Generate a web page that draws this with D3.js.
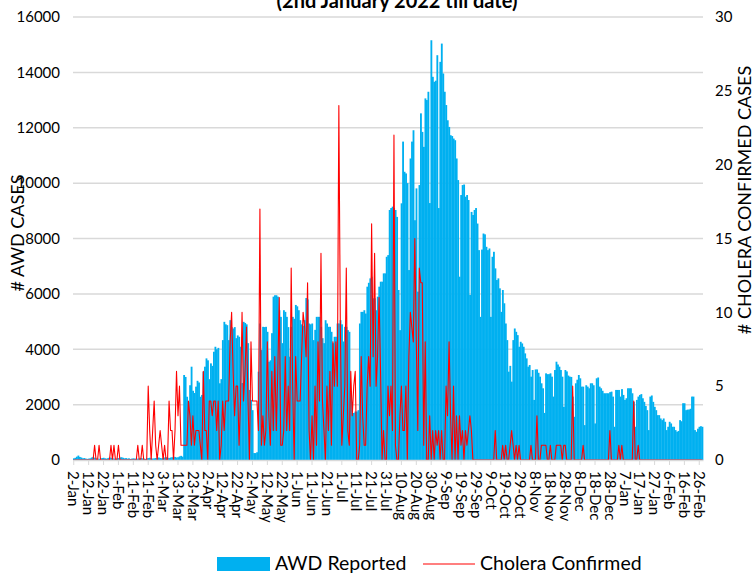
<!DOCTYPE html>
<html>
<head>
<meta charset="utf-8">
<script src="https://cdn.jsdelivr.net/npm/d3@7"></script>
<style>
  body { margin: 0; background: #fff; }
  svg { display: block; font-family: Lato, "Open Sans", sans-serif; }
</style>
</head>
<body>
<svg id="chart" width="753" height="574"></svg>
<script>
// tick labels, one every 10 days starting 2-Jan-2022
const tickLabels = ["2-Jan","12-Jan","22-Jan","1-Feb","11-Feb","21-Feb","3-Mar","13-Mar","23-Mar",
  "2-Apr","12-Apr","22-Apr","2-May","12-May","22-May","1-Jun","11-Jun","21-Jun","1-Jul","11-Jul",
  "21-Jul","31-Jul","10-Aug","20-Aug","30-Aug","9-Sep","19-Sep","29-Sep","9-Oct","19-Oct","29-Oct",
  "8-Nov","18-Nov","28-Nov","8-Dec","18-Dec","28-Dec","7-Jan","17-Jan","27-Jan","6-Feb","16-Feb","26-Feb"];

// daily AWD reported, 2-Jan-2022 .. 28-Feb-2023
const awd = [
  60,80,120,160,110,90,60,70,50,40,
  50,60,90,110,80,60,50,40,60,70,
  80,60,50,70,90,80,60,50,40,60,
  70,90,100,80,60,70,50,60,40,50,
  60,50,40,50,60,70,60,50,40,60,
  70,80,60,50,60,70,80,90,70,60,
  80,90,100,80,70,90,100,120,110,90,
  100,130,150,120,3070,3000,2285,2100,2700,3370,
  2500,2420,2650,2860,2800,2285,2350,3190,3370,3670,
  3600,2920,3490,3400,3910,4090,4000,4050,2770,2920,
  4330,4990,4900,4870,4330,5050,4800,4750,4800,4400,
  4500,4450,4090,2780,4990,4950,4900,4220,2530,2170,
  1800,250,250,280,3190,4930,3970,4810,4800,4810,
  4630,3550,3600,4580,5900,5950,5950,5900,5410,5170,
  4220,5410,5350,5170,4800,3730,4810,5170,5100,5600,
  5550,5410,5050,4900,4850,5050,5850,5800,4930,4900,
  4930,4330,4700,5170,5170,5170,4810,4400,4220,5050,
  4930,4810,4810,4630,4220,4450,4450,4930,4930,5050,
  4900,4280,4810,4810,4690,4630,2420,1700,1700,1750,
  1750,1800,4930,5350,5350,5410,5290,6260,6400,6560,
  6620,5840,5840,5410,5900,6260,6440,6440,6740,6740,
  7340,7400,9030,9100,9150,9100,9030,8780,6140,4690,
  9270,11500,10410,10350,10000,6860,10890,11500,11910,8660,
  9810,6080,9930,12520,11850,11310,13060,13000,13300,9280,
  15160,13840,13660,13700,14620,9100,14380,15040,13960,13300,
  12820,12270,12030,11730,11700,11610,11550,10890,10110,6620,
  9570,9930,9950,9510,9570,9390,5960,8960,8850,9030,
  9100,8540,7580,5170,7600,8180,8150,7700,7580,7640,
  5170,7340,7520,6920,6500,6560,6200,5350,6140,5660,
  4930,4330,3190,3400,2830,4330,4750,4630,4510,4090,
  4270,4210,4090,3850,3670,3370,3430,3010,3250,2170,
  3270,3270,3150,3010,2770,2590,1700,3130,3100,3100,
  3130,3010,2290,3250,3550,3450,3370,3250,3010,1920,
  3250,3200,3050,3010,3000,2290,1560,2770,2900,3070,
  2950,2650,2650,1260,2700,2650,2590,2770,2770,2700,
  1320,2950,2980,2650,2590,2500,2410,2410,2410,2410,
  2450,2470,2290,1200,2530,2530,2530,2290,2560,2350,
  2170,2230,2590,2590,2590,2410,2100,1200,2170,2290,
  2350,2380,2230,2100,1950,1800,1080,2290,2330,2100,
  1920,1800,1620,1620,1500,1440,1500,1380,1080,1200,
  1380,1320,1200,1200,1080,1020,1050,1440,1400,2050,
  2050,1800,1820,1820,1850,2290,2290,1080,1020,1130,
  1200,1220,1200
];

// daily cholera confirmed, same days
const cholera = [
  0,0,0,0,0,0,0,0,0,0,
  0,0,0,0,1,0,0,1,0,0,
  0,0,0,0,0,1,0,1,0,0,
  1,0,0,0,0,0,0,0,0,0,
  0,0,0,1,0,0,1,0,0,0,
  5,2,0,2,4,1,0,1,2,1,
  0,1,0,0,4,2,2,0,2,6,
  3,5,1,1,1,1,1,4,3,1,
  3,1,2,2,2,1,0,6,2,2,
  0,4,4,3,4,4,2,4,0,1,
  4,2,4,4,4,8,10,6,3,5,
  5,1,4,10,4,6,9,4,0,8,
  4,4,4,4,2,17,1,3,1,2,
  8,3,1,6,2,7,2,6,11,1,
  1,2,7,2,5,2,13,5,0,7,
  4,4,4,7,10,9,7,12,2,0,
  3,0,5,1,8,4,14,4,2,0,
  5,2,6,1,8,5,8,5,24,9,
  1,3,5,13,2,1,6,3,5,6,
  0,0,1,7,3,1,1,5,7,5,
  16,7,14,5,7,11,6,0,2,0,
  0,5,3,5,2,22,1,0,0,3,
  5,2,2,5,0,7,10,9,8,15,
  8,2,13,12,12,1,8,0,0,3,
  0,2,0,2,1,2,0,2,0,0,
  5,3,8,3,0,5,0,3,0,3,
  1,2,0,2,1,2,3,2,0,0,
  0,0,0,0,0,0,0,0,0,0,
  0,0,0,2,0,0,0,0,1,0,
  1,0,0,1,2,1,0,1,0,1,
  0,0,0,0,0,0,0,1,0,0,
  0,3,0,0,1,1,1,1,0,0,
  1,0,0,0,1,1,1,1,0,1,
  1,0,0,0,0,5,0,0,0,0,
  0,0,1,0,0,0,0,0,0,0,
  0,0,0,0,0,0,0,0,0,0,
  2,0,0,0,0,0,1,0,1,0,
  0,0,0,0,0,0,4,0,0,1,
  0,0,0,0,0,0,0,0,0,0,
  0,0,0,0,0,0,0,0,0,0,
  0,0,0,0,0,0,0,0,0,0,
  0,0,0,0,0,0,0,0,0,0,
  0,0,0
];

const svg = d3.select("#chart");
const plotLeft = 73, plotRight = 703, plotTop = 17, plotBottom = 460;
const blue = "#00b0f0", red = "#ff0000", grid = "#d9d9d9";

const x = d3.scaleBand().domain(d3.range(awd.length)).range([plotLeft, plotRight]).padding(0);
const yL = d3.scaleLinear().domain([0, 16000]).range([plotBottom, plotTop]);
const yR = d3.scaleLinear().domain([0, 30]).range([plotBottom, plotTop]);

// title (first line is cut off above the frame)
svg.append("text")
  .attr("x", 397).attr("y", 8)
  .attr("text-anchor", "middle")
  .style("font-size", "20px").style("font-weight", "bold")
  .text("(2nd January 2022 till date)");

// gridlines
svg.append("g").selectAll("line")
  .data(yL.ticks(8))
  .join("line")
  .attr("x1", plotLeft).attr("x2", plotRight)
  .attr("y1", d => yL(d)).attr("y2", d => yL(d))
  .attr("stroke", grid).attr("stroke-width", 1.5);

// AWD bars
svg.append("g").selectAll("rect")
  .data(awd)
  .join("rect")
  .attr("x", (d, i) => x(i))
  .attr("width", x.bandwidth() + 0.35)
  .attr("y", d => yL(d))
  .attr("height", d => plotBottom - yL(d))
  .attr("fill", blue);

// cholera line
const line = d3.line()
  .x((d, i) => x(i) + x.bandwidth() / 2)
  .y(d => yR(d));

svg.append("path")
  .datum(cholera)
  .attr("d", line)
  .attr("fill", "none")
  .attr("stroke", red)
  .attr("stroke-width", 1.1)
  .attr("stroke-linejoin", "round");

// x axis
const xAxis = svg.append("g")
  .attr("transform", `translate(0,${plotBottom})`)
  .call(d3.axisBottom(x)
    .tickValues(d3.range(0, awd.length, 10))
    .tickFormat(i => tickLabels[i / 10])
    .tickSize(5).tickSizeOuter(0));
xAxis.select(".domain").attr("stroke", grid).attr("stroke-width", 1.5);
xAxis.selectAll(".tick line").attr("stroke", grid);
xAxis.selectAll(".tick text")
  .attr("transform", "rotate(90)")
  .attr("x", 11).attr("y", 0).attr("dy", "0.35em")
  .attr("text-anchor", "start")
  .attr("fill", "#000")
  .style("font-size", "15px").style("font-family", "Lato, sans-serif");

// left axis
const yAxisL = svg.append("g")
  .attr("transform", `translate(${plotLeft},0)`)
  .call(d3.axisLeft(yL).ticks(8).tickFormat(d3.format("d")).tickSize(0).tickPadding(13));
yAxisL.select(".domain").remove();
yAxisL.selectAll("text").attr("fill", "#000")
  .style("font-size", "15px").style("font-family", "Lato, sans-serif");

// right axis
const yAxisR = svg.append("g")
  .attr("transform", `translate(${plotRight},0)`)
  .call(d3.axisRight(yR).ticks(6).tickSize(0).tickPadding(12));
yAxisR.select(".domain").remove();
yAxisR.selectAll("text").attr("fill", "#000")
  .style("font-size", "15px").style("font-family", "Lato, sans-serif");

// axis titles
svg.append("text")
  .attr("transform", "translate(18,233) rotate(-90)")
  .attr("text-anchor", "middle").attr("dy", "0.35em")
  .style("font-size", "18px")
  .text("# AWD CASES");

svg.append("text")
  .attr("transform", "translate(745,200) rotate(-90)")
  .attr("text-anchor", "middle").attr("dy", "0.35em")
  .style("font-size", "18px")
  .text("# CHOLERA CONFIRMED CASES");

// legend
const legend = svg.append("g");
legend.append("rect")
  .attr("x", 217).attr("y", 557).attr("width", 53).attr("height", 14)
  .attr("fill", blue);
legend.append("text")
  .attr("x", 275).attr("y", 570)
  .style("font-size", "19.5px")
  .text("AWD Reported");
legend.append("line")
  .attr("x1", 423).attr("x2", 475).attr("y1", 564).attr("y2", 564)
  .attr("stroke", red).attr("stroke-width", 1.2);
legend.append("text")
  .attr("x", 480).attr("y", 570)
  .style("font-size", "19.5px")
  .text("Cholera Confirmed");
</script>
</body>
</html>
